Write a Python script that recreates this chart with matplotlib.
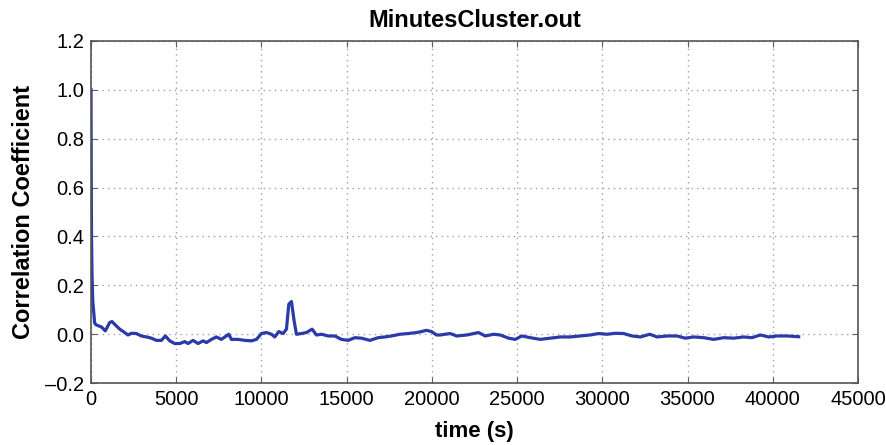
import matplotlib
matplotlib.use("Agg")
import matplotlib.pyplot as plt

plt.rcParams['font.family'] = ['Liberation Sans', 'DejaVu Sans']

# time (s) and correlation coefficient samples
time_s = [0, 15, 30, 60, 100, 215, 313, 606, 841, 1095, 1233, 1428, 1683, 1976,
          2172, 2367, 2661, 2955, 3248, 3542, 3835, 4129, 4364, 4618, 4911, 5205,
          5499, 5694, 5988, 6281, 6575, 6770, 7064, 7357, 7651, 8081, 8238, 8629,
          9021, 9412, 9706, 10000, 10293, 10587, 10782, 11017, 11271, 11467,
          11604, 11760, 11917, 12054, 12347, 12641, 12974, 13228, 13522, 13913,
          14305, 14696, 15087, 15479, 15870, 16359, 16848, 17240, 17631, 18120,
          18610, 19099, 19392, 19686, 19979, 20273, 20480, 21070, 21460, 22050,
          22735, 23130, 23620, 24010, 24500, 24890, 25280, 25770, 26360, 26940,
          27530, 28120, 28700, 29290, 29780, 30270, 30760, 31250, 31740, 32230,
          32780, 33210, 33800, 34380, 34870, 35360, 35950, 36530, 37120, 37710,
          38290, 38780, 39270, 39760, 40250, 40840, 41520]
corr = [1.0, 0.62, 0.40, 0.24, 0.14, 0.045, 0.038, 0.030, 0.014, 0.048, 0.052,
        0.038, 0.021, 0.007, -0.003, 0.004, 0.003, -0.007, -0.011, -0.016,
        -0.025, -0.025, -0.007, -0.027, -0.038, -0.038, -0.030, -0.038, -0.025,
        -0.038, -0.027, -0.034, -0.021, -0.011, -0.021, 0.000, -0.021, -0.021,
        -0.025, -0.027, -0.021, 0.003, 0.007, 0.000, -0.011, 0.011, 0.003,
        0.021, 0.123, 0.134, 0.055, 0.000, 0.003, 0.007, 0.021, -0.003, 0.000,
        -0.007, -0.007, -0.021, -0.025, -0.014, -0.016, -0.025, -0.014, -0.011,
        -0.007, 0.000, 0.003, 0.007, 0.011, 0.016, 0.011, -0.003, -0.003, 0.003,
        -0.007, -0.003, 0.007, -0.007, 0.000, -0.003, -0.016, -0.021, -0.007,
        -0.014, -0.021, -0.016, -0.011, -0.011, -0.007, -0.003, 0.003, 0.000,
        0.004, 0.003, -0.007, -0.011, 0.000, -0.011, -0.007, -0.007, -0.016,
        -0.011, -0.014, -0.021, -0.014, -0.016, -0.011, -0.014, -0.003, -0.011,
        -0.007, -0.007, -0.010]

x_ticks = [0, 5000, 10000, 15000, 20000, 25000, 30000, 35000, 40000, 45000]
y_ticks = [-0.2, 0.0, 0.2, 0.4, 0.6, 0.8, 1.0, 1.2]

fig = plt.figure(figsize=(8.87, 4.45), dpi=100)
ax = fig.add_axes([0.1026, 0.139, 0.8647, 0.769])

ax.plot(time_s, corr, color='#2a3aa8', linewidth=2.3)

ax.set_xlim(0, 45000)
ax.set_ylim(-0.2, 1.2)
ax.set_xticks(x_ticks)
ax.set_xticklabels([str(v) for v in x_ticks])
ax.set_yticks(y_ticks)
ax.set_yticklabels([f"{v:.1f}".replace('-', '\u2013') for v in y_ticks])

ax.grid(True, linestyle=(0, (1, 3)), color='#a0a0a0', linewidth=1.0)
ax.tick_params(direction='in', length=4, labelsize=14.5, pad=5, color='#606060',
               top=True, right=True)
for s in ax.spines.values():
    s.set_color('#555555')
    s.set_linewidth(1.2)

ax.set_title('MinutesCluster.out', fontsize=17, fontweight='bold', pad=10)
ax.set_xlabel('time (s)', fontsize=16, fontweight='bold')
ax.xaxis.set_label_coords(0.5, -0.112)
ax.set_ylabel('Correlation Coefficient', fontsize=17, fontweight='bold', labelpad=7)

fig.savefig('out.png', dpi=100)
